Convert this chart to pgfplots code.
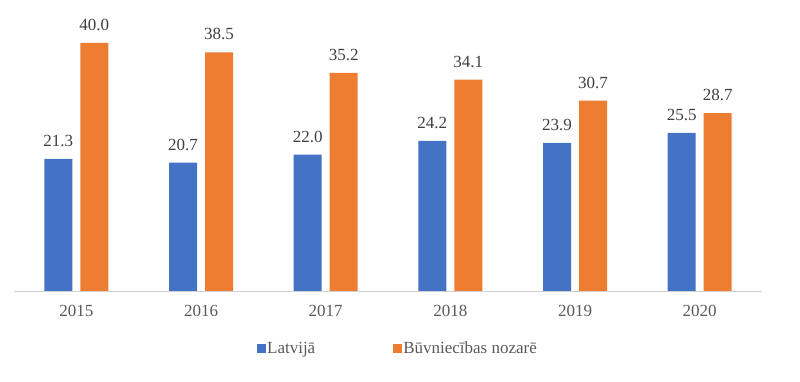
\documentclass[border=0pt]{standalone}
\usepackage{pgfplots}
\pgfplotsset{compat=1.18}
\usepackage{fontspec}
\setmainfont{Liberation Serif}
\definecolor{cblue}{HTML}{4472C4}
\definecolor{corange}{HTML}{ED7D31}
\definecolor{txt}{HTML}{595959}
\definecolor{lbl}{HTML}{404040}
\begin{document}
\begin{tikzpicture}[x=1pt,y=1pt]
\path[use as bounding box] (0,0) rectangle (800,382);
\begin{axis}[
  at={(14pt,91pt)}, anchor=south west,
  scale only axis, width=748pt, height=248pt,
  xmin=-0.5, xmax=5.5, ymin=0, ymax=40,
  clip=false,
  axis x line=bottom, axis y line=none,
  x axis line style={-, draw=black!18, line width=0.8pt},
  ybar=8pt, bar width=28pt,
  xtick={0,1,2,3,4,5},
  xticklabels={2015,2016,2017,2018,2019,2020},
  major tick length=0pt,
  xticklabel style={anchor=north, inner sep=0pt, yshift=-14pt, text=txt, font=\fontsize{17}{20}\selectfont},
  /pgf/number format/assume math mode=true,
  nodes near coords,
  nodes near coords style={anchor=south, inner sep=0pt, yshift=12pt, text=lbl, font=\fontsize{17}{20}\selectfont,
    /pgf/number format/.cd, fixed, fixed zerofill, precision=1},
  legend columns=2,
  legend style={draw=none, fill=none, at={(0.5127,-0.232)}, anchor=center,
    font=\rmfamily\fontsize{17}{20}\selectfont, text=txt,
    nodes={inner sep=1.5pt},
    /tikz/every even column/.append style={column sep=76pt}},
  legend image code/.code={\fill[#1, draw=none] (0pt,-4.5pt) rectangle (9pt,4.5pt);},
]
\addplot[fill=cblue, draw=none] coordinates {(0,21.3) (1,20.7) (2,22.0) (3,24.2) (4,23.9) (5,25.5)};
\addplot[fill=corange, draw=none] coordinates {(0,40.0) (1,38.5) (2,35.2) (3,34.1) (4,30.7) (5,28.7)};
\legend{Latvijā, Būvniecības nozarē}
\end{axis}
\end{tikzpicture}
\end{document}
